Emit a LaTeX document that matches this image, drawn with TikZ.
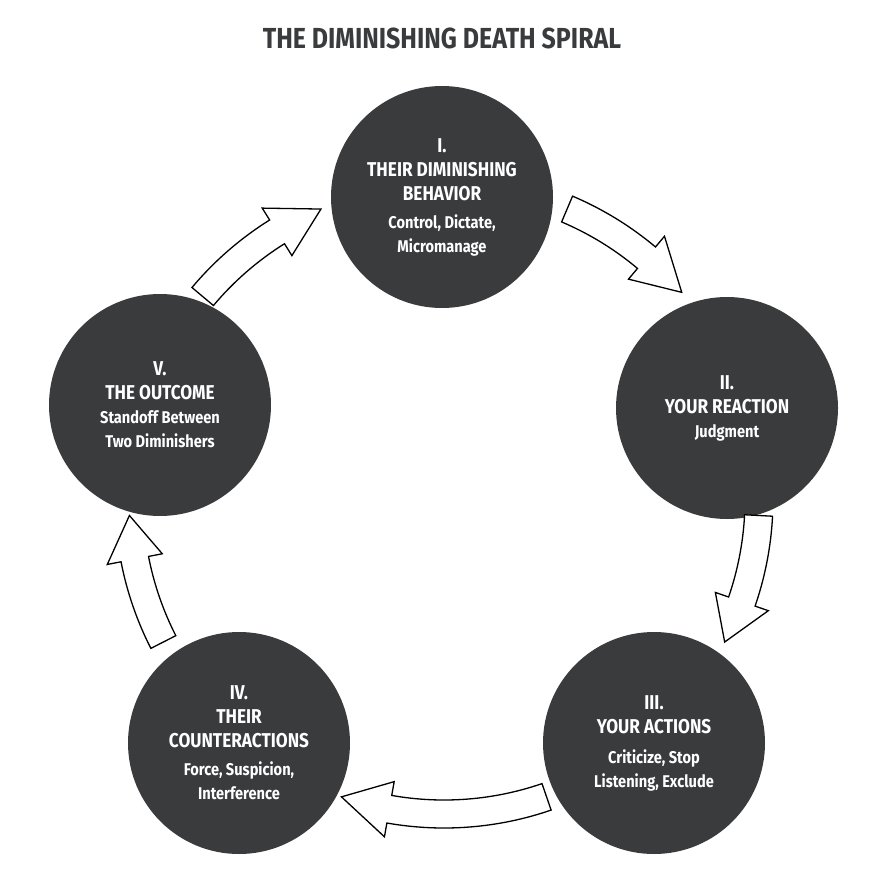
\documentclass[tikz,border=0pt]{standalone}
\usepackage{fontspec}
\usetikzlibrary{calc}
\setmainfont{Fira Sans}[FakeStretch=0.86]
\definecolor{dk}{HTML}{3A3B3D}
\begin{document}
\begin{tikzpicture}[x=1pt,y=-1pt,
  stage/.style={circle,fill=dk,minimum size=222pt,inner sep=0pt,text=white,align=center,font=\bfseries\fontsize{20}{24}\selectfont},
  barrow/.style={draw=black,line width=1.3pt,fill=white,line join=miter}]
\useasboundingbox (0,0) rectangle (884,888);
\node[font=\bfseries\fontsize{29}{32}\selectfont,text=dk] (title) at (442,38) {THE DIMINISHING DEATH SPIRAL};
\coordinate (O) at (444,499);
\node[stage] (s1) at (442,197) {I.\\THEIR DIMINISHING\\BEHAVIOR\\[4pt]{\fontsize{17}{22}\selectfont Control, Dictate,}\\{\fontsize{17}{22}\selectfont Micromanage}};
\node[stage] (s2) at (727,408) {II.\\YOUR REACTION\\{\fontsize{17}{22}\selectfont Judgment}};
\node[stage] (s3) at (654,743) {III.\\YOUR ACTIONS\\[6pt]{\fontsize{17}{22}\selectfont Criticize, Stop}\\{\fontsize{17}{22}\selectfont Listening, Exclude}};
\node[stage] (s4) at (239,743) {IV.\\THEIR\\COUNTERACTIONS\\[4pt]{\fontsize{17}{22}\selectfont Force, Suspicion,}\\{\fontsize{17}{22}\selectfont Interference}};
\node[stage] (s5) at (160,405) {V.\\THE OUTCOME\\{\fontsize{17}{22}\selectfont Standoff Between}\\{\fontsize{17}{22}\selectfont Two Diminishers}};
\newcommand\bArrow[3]{%
  \draw[barrow] ($(O)+(#1:329)$) arc[start angle=#1,end angle=#2,radius=329]
   -- ($(O)+(#2:343)$) -- ($(O)+(#3:315)$) -- ($(O)+(#2:287)$) -- ($(O)+(#2:301)$)
   arc[start angle=#2,end angle=#1,radius=301] -- cycle;}
\bArrow{-67}{-50}{-41}
\bArrow{3}{19}{27}
\bArrow{71}{100}{109}
\bArrow{153}{169}{177}
\bArrow{220}{238}{247}
\end{tikzpicture}
\end{document}
